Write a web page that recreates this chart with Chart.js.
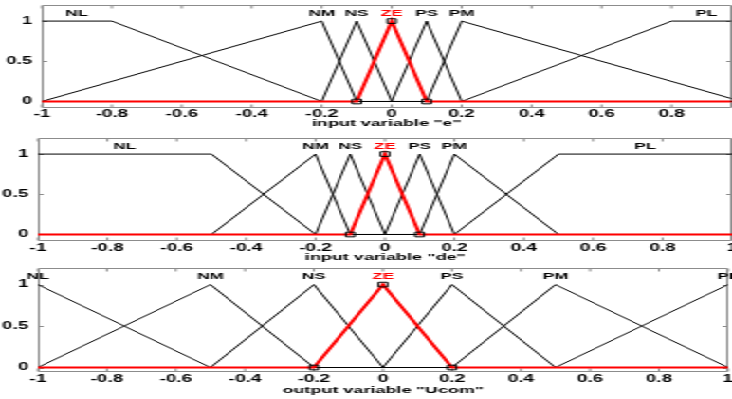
<!DOCTYPE html>
<html>
<head>
<meta charset="utf-8">
<script src="https://cdn.jsdelivr.net/npm/chart.js@4.4.1/dist/chart.umd.min.js"></script>
<style>
html,body{margin:0;padding:0;background:#fff;overflow:hidden;width:732px;height:399px;}
#wrap{position:absolute;left:0;top:0;width:386px;height:399px;transform:scaleX(1.8964);transform-origin:0 0;}
#wrap canvas{position:absolute;left:0;display:block;}
</style>
</head>
<body>
<div id="wrap">
<canvas id="c1" width="386" height="130" style="top:0px"></canvas>
<canvas id="c2" width="386" height="133" style="top:130px"></canvas>
<canvas id="c3" width="386" height="136" style="top:263px"></canvas>
</div>
<script>
// ---------- data ----------
const mfNames = ['NL', 'NM', 'NS', 'ZE', 'PS', 'PM', 'PL'];
const xTickValues = [-1, -0.8, -0.6, -0.4, -0.2, 0, 0.2, 0.4, 0.6, 0.8, 1];
const yTickValues = [0, 0.5, 1];

// input variable "e": membership-function vertices across [-1, 1]
const eX = [[-1, -0.8, -0.2, 1], [-1, -0.2, -0.1, 1], [-1, -0.2, -0.1, 0, 1], [-1, -0.1, 0, 0.1, 1], [-1, 0, 0.1, 0.2, 1], [-1, 0.1, 0.2, 1], [-1, 0.2, 0.8, 1]];
const eY = [[1, 1, 0, 0], [0, 1, 0, 0], [0, 0, 1, 0, 0], [0, 0, 1, 0, 0], [0, 0, 1, 0, 0], [0, 0, 1, 0], [0, 0, 1, 1]];
const eLabelX = [-0.9, -0.2, -0.1, 0, 0.1, 0.2, 0.9];

// input variable "de"
const deX = [[-1, -0.5, -0.2, 1], [-1, -0.5, -0.2, -0.1, 1], [-1, -0.2, -0.1, 0, 1], [-1, -0.1, 0, 0.1, 1], [-1, 0, 0.1, 0.2, 1], [-1, 0.1, 0.2, 0.5, 1], [-1, 0.2, 0.5, 1]];
const deY = [[1, 1, 0, 0], [0, 0, 1, 0, 0], [0, 0, 1, 0, 0], [0, 0, 1, 0, 0], [0, 0, 1, 0, 0], [0, 0, 1, 0, 0], [0, 0, 1, 1]];
const deLabelX = [-0.75, -0.2, -0.1, 0, 0.1, 0.2, 0.75];

// output variable "Ucom"
const uX = [[-1, -0.5, 1], [-1, -0.5, -0.2, 1], [-1, -0.5, -0.2, 0, 1], [-1, -0.2, 0, 0.2, 1], [-1, 0, 0.2, 0.5, 1], [-1, 0.2, 0.5, 1], [-1, 0.5, 1]];
const uY = [[1, 0, 0], [0, 1, 0, 0], [0, 0, 1, 0, 0], [0, 0, 1, 0, 0], [0, 0, 1, 0, 0], [0, 0, 1, 0], [0, 0, 1]];
const uLabelX = [-1, -0.5, -0.2, 0, 0.2, 0.5, 1];

const panelTitles = ['input variable "e"', 'input variable "de"', 'output variable "Ucom"'];
const xMaxValues = [0.97, 1, 1];
const yMinValues = [-0.075, -0.075, -0.05];
const yMaxValue = 1.2;
const labelY = 1.1;

// ---------- drawing ----------
const FONT = "'Liberation Sans', Arial, sans-serif";

const framePlugin = {
  id: 'frame',
  beforeDatasetsDraw(chart) {
    const { ctx, chartArea: a, scales } = chart;
    const x = scales.x, y = scales.y;
    ctx.save();
    ctx.strokeStyle = '#8c8c8c';
    ctx.lineWidth = 1;
    const L = Math.round(a.left) + 0.5, R = Math.round(a.right) - 0.5;
    const T = Math.round(a.top) + 0.5, B = Math.round(a.bottom) - 0.5;
    ctx.beginPath();
    ctx.rect(L, T, R - L, B - T);
    x.ticks.forEach(t => {
      const px = x.getPixelForValue(t.value);
      ctx.moveTo(px, B); ctx.lineTo(px, B - 3);
      ctx.moveTo(px, T); ctx.lineTo(px, T + 3);
    });
    y.ticks.forEach(t => {
      const py = Math.round(y.getPixelForValue(t.value)) + 0.5;
      ctx.moveTo(L, py); ctx.lineTo(L + 2.5, py);
      ctx.moveTo(R, py); ctx.lineTo(R - 2.5, py);
    });
    ctx.stroke();
    ctx.restore();
  },
  afterDatasetsDraw(chart, args, opts) {
    const { ctx, scales } = chart;
    ctx.save();
    ctx.font = 'bold 9px ' + FONT;
    ctx.textAlign = 'center';
    ctx.textBaseline = 'middle';
    (opts.labelX || []).forEach((lx, i) => {
      ctx.fillStyle = mfNames[i] === 'ZE' ? '#ff0000' : '#000000';
      ctx.fillText(mfNames[i], scales.x.getPixelForValue(lx), scales.y.getPixelForValue(labelY));
    });
    ctx.restore();
  }
};

function buildDatasets(xs, ys) {
  return mfNames.map((name, i) => {
    const isZE = name === 'ZE';
    const n = xs[i].length;
    return {
      label: name,
      data: xs[i].map((xv, j) => ({ x: xv, y: ys[i][j] })),
      borderColor: isZE ? '#ff0000' : '#000000',
      borderWidth: isZE ? 2 : 1,
      pointStyle: 'rect',
      pointRadius: isZE ? xs[i].map((_, j) => (j === 0 || j === n - 1) ? 0 : 3.3) : 0,
      pointBorderColor: '#000000',
      pointBackgroundColor: 'rgba(0,0,0,0)',
      pointBorderWidth: 1,
      order: isZE ? 0 : 1,
      tension: 0,
      fill: false
    };
  });
}

function makeChart(id, idx, xs, ys, labelX, lay) {
  return new Chart(document.getElementById(id), {
    type: 'line',
    data: { datasets: buildDatasets(xs, ys) },
    plugins: [framePlugin],
    options: {
      responsive: false,
      animation: false,
      devicePixelRatio: 1,
      events: [],
      layout: { padding: { left: 0, right: lay.padR, top: lay.padT, bottom: 0 } },
      plugins: { legend: { display: false }, tooltip: { enabled: false }, frame: { labelX: labelX } },
      scales: {
        x: {
          type: 'linear',
          min: -1,
          max: xMaxValues[idx],
          grid: { display: false, drawTicks: false },
          border: { display: false },
          ticks: {
            padding: lay.tickPad,
            autoSkip: false,
            maxRotation: 0,
            color: '#000',
            font: { family: FONT, size: 10, weight: 'bold' },
            callback: v => String(v)
          },
          afterBuildTicks: s => {
            s.ticks = xTickValues.filter(v => v >= s.min - 1e-9 && v <= s.max + 1e-9).map(v => ({ value: v }));
          },
          afterFit: s => { s.height = lay.xH; s.paddingLeft = 0; s.paddingRight = 0; },
          title: {
            display: true,
            text: panelTitles[idx],
            color: '#000',
            font: { family: FONT, size: 9.5, weight: 'bold' },
            padding: { top: 0, bottom: lay.titlePad }
          }
        },
        y: {
          type: 'linear',
          min: yMinValues[idx],
          max: yMaxValue,
          grid: { display: false, drawTicks: false },
          border: { display: false },
          ticks: {
            padding: 5,
            color: '#000',
            font: { family: FONT, size: 10, weight: 'bold' },
            callback: v => String(v)
          },
          afterBuildTicks: s => { s.ticks = yTickValues.map(v => ({ value: v })); },
          afterFit: s => { s.width = lay.yW; s.paddingTop = 0; s.paddingBottom = 0; }
        }
      }
    }
  });
}

makeChart('c1', 0, eX, eY, eLabelX, { padR: 0.5, padT: 5, xH: 22.47, yW: 22.1, tickPad: 0.5, titlePad: 1 });
makeChart('c2', 1, deX, deY, deLabelX, { padR: 0, padT: 8, xH: 22.47, yW: 20, tickPad: 1.5, titlePad: 0 });
makeChart('c3', 2, uX, uY, uLabelX, { padR: 2.1, padT: 5, xH: 27.35, yW: 20, tickPad: 1.5, titlePad: 3 });
</script>
</body>
</html>
